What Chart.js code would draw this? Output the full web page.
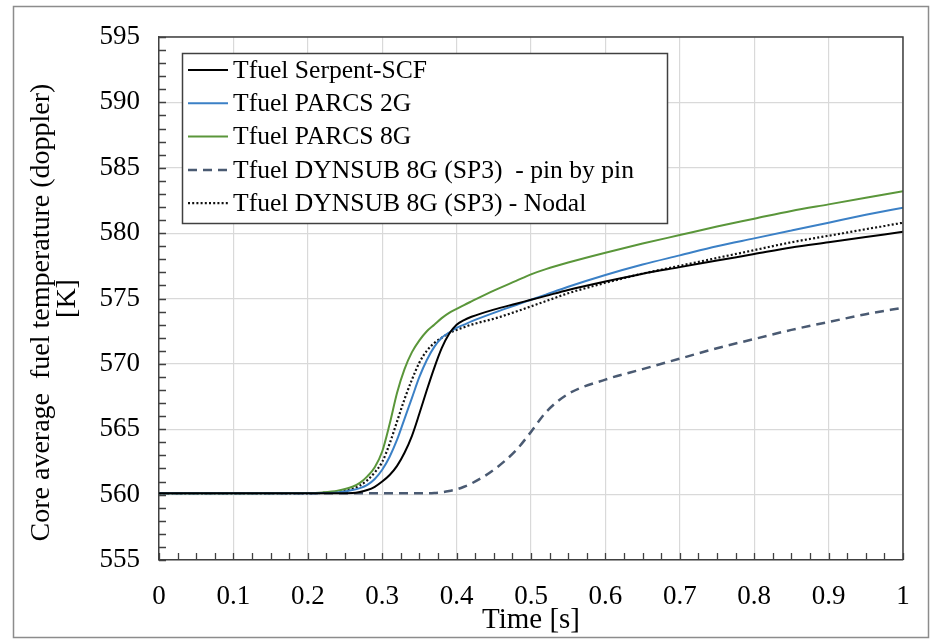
<!DOCTYPE html>
<html>
<head>
<meta charset="utf-8">
<script src="https://cdn.jsdelivr.net/npm/chart.js@4/dist/chart.umd.min.js"></script>
<style>
html,body{margin:0;padding:0;background:#fff;}
#wrap{width:932px;height:642px;}
</style>
</head>
<body>
<div id="wrap"><canvas id="c" width="932" height="642"></canvas></div>
<script>
// ---- data ----
const time = [0, 0.1, 0.2, 0.22, 0.24, 0.26, 0.27, 0.28, 0.29, 0.30,
              0.31, 0.32, 0.33, 0.34, 0.35, 0.36, 0.37, 0.38, 0.39, 0.40,
              0.41, 0.42, 0.45, 0.48, 0.50, 0.52, 0.55,
              0.60, 0.65, 0.70, 0.75, 0.80, 0.85, 0.90, 0.95, 1.00];
const serpentSCF = [560.1, 560.1, 560.1, 560.1, 560.1, 560.12, 560.2, 560.35, 560.6, 561.0,
                    561.5, 562.2, 563.2, 564.5, 566.2, 568.0, 569.7, 571.2, 572.3, 573.0,
                    573.35, 573.6, 574.15, 574.6, 574.9, 575.2, 575.65,
                    576.3, 576.9, 577.4, 577.9, 578.4, 578.9, 579.3, 579.7, 580.1];
const parcs2G    = [560.1, 560.1, 560.1, 560.12, 560.17, 560.35, 560.5, 560.75, 561.2, 561.9,
                    562.9, 564.2, 565.8, 567.4, 569.0, 570.3, 571.3, 572.0, 572.4, 572.75,
                    573.0, 573.25, 573.9, 574.5, 574.9, 575.3, 575.9,
                    576.8, 577.6, 578.3, 579.0, 579.6, 580.2, 580.8, 581.4, 581.95];
const parcs8G    = [560.1, 560.1, 560.12, 560.17, 560.3, 560.6, 560.9, 561.4, 562.1, 563.3,
                    565.4, 567.8, 569.6, 570.9, 571.8, 572.5, 573.0, 573.5, 573.9, 574.2,
                    574.5, 574.78, 575.6, 576.35, 576.85, 577.25, 577.75,
                    578.5, 579.2, 579.85, 580.5, 581.1, 581.7, 582.2, 582.7, 583.2];
const dynsubPin  = [560.1, 560.1, 560.1, 560.1, 560.1, 560.1, 560.1, 560.1, 560.1, 560.1,
                    560.1, 560.1, 560.1, 560.1, 560.1, 560.1, 560.12, 560.18, 560.28, 560.4,
                    560.6, 560.85, 561.9, 563.4, 564.8, 566.3, 567.7,
                    568.8, 569.6, 570.4, 571.2, 571.9, 572.6, 573.2, 573.8, 574.3];
const dynsubNodal= [560.1, 560.1, 560.1, 560.13, 560.2, 560.45, 560.7, 561.1, 561.7, 562.5,
                    563.9, 565.6, 567.3, 568.8, 570.1, 571.0, 571.6, 572.0, 572.35, 572.6,
                    572.8, 573.0, 573.45, 574.0, 574.4, 574.8, 575.4,
                    576.2, 576.9, 577.5, 578.1, 578.7, 579.3, 579.8, 580.3, 580.8];
const seriesLabels = ["Tfuel Serpent-SCF", "Tfuel PARCS 2G", "Tfuel PARCS 8G", "Tfuel DYNSUB 8G (SP3)  - pin by pin", "Tfuel DYNSUB 8G (SP3) - Nodal"];
const xTickValues = [0, 0.1, 0.2, 0.3, 0.4, 0.5, 0.6, 0.7, 0.8, 0.9, 1];
const yTickValues = [555, 560, 565, 570, 575, 580, 585, 590, 595];
const xTitle = 'Time [s]';
const yTitle = ['Core average  fuel temperature (doppler)    ', '[K]'];

const seriesValues = [serpentSCF, parcs2G, parcs8G, dynsubPin, dynsubNodal];
const seriesStyles = [
  {color: "#000000", dash: [], width: 2},
  {color: "#3b80c6", dash: [], width: 2},
  {color: "#5a963a", dash: [], width: 2},
  {color: "#4a5a72", dash: [9, 6], width: 2.5},
  {color: "#111111", dash: [2, 2.2], width: 2.2}
];
const serif = "'Liberation Serif', 'Times New Roman', serif";

const datasets = seriesLabels.map((lab, i) => ({
  label: lab,
  data: time.map((t, k) => ({x: t, y: seriesValues[i][k]})),
  borderColor: seriesStyles[i].color,
  borderWidth: seriesStyles[i].width,
  borderDash: seriesStyles[i].dash,
  pointRadius: 0,
  fill: false,
  cubicInterpolationMode: 'monotone'
}));

const framePlugin = {
  id: 'frame',
  beforeDraw(chart) {
    const ctx = chart.ctx;
    ctx.save();
    ctx.fillStyle = '#ffffff';
    ctx.fillRect(0, 0, chart.width, chart.height);
    ctx.strokeStyle = '#8c8c8c';
    ctx.lineWidth = 1.5;
    ctx.strokeRect(13.5, 6.5, 915, 631);
    ctx.restore();
  }
};

const minorTicksPlugin = {
  id: 'minorTicks',
  afterDraw(chart) {
    const ctx = chart.ctx;
    const xs = chart.scales.x, ys = chart.scales.y;
    const a = chart.chartArea;
    ctx.save();
    ctx.strokeStyle = '#404040';
    ctx.lineWidth = 1.3;
    ctx.beginPath();
    for (let v = ys.min; v <= ys.max + 1e-9; v += 1) {
      const py = Math.round(ys.getPixelForValue(v)) + 0.5;
      ctx.moveTo(a.left, py); ctx.lineTo(a.left + 7, py);
    }
    for (let v = xs.min; v <= xs.max + 1e-9; v += 0.025) {
      const px = Math.round(xs.getPixelForValue(v)) + 0.5;
      ctx.moveTo(px, a.bottom); ctx.lineTo(px, a.bottom - 7);
    }
    ctx.stroke();
    ctx.restore();
  }
};

const boxLegendPlugin = {
  id: 'boxLegend',
  afterDraw(chart) {
    const ctx = chart.ctx;
    const x0 = 182, y0 = 53, w = 485, h = 170;
    ctx.save();
    ctx.fillStyle = '#ffffff';
    ctx.fillRect(x0, y0, w, h);
    ctx.strokeStyle = '#404040';
    ctx.lineWidth = 1.5;
    ctx.strokeRect(x0 + 0.5, y0 + 0.5, w, h);
    ctx.font = "25.6px " + serif;
    ctx.textBaseline = 'middle';
    ctx.textAlign = 'left';
    chart.data.datasets.forEach((ds, i) => {
      const yy = 70 + i * 33.3;
      ctx.strokeStyle = ds.borderColor;
      ctx.lineWidth = ds.borderWidth;
      ctx.setLineDash(ds.borderDash);
      ctx.beginPath();
      ctx.moveTo(188, yy); ctx.lineTo(228, yy);
      ctx.stroke();
      ctx.setLineDash([]);
      ctx.fillStyle = '#000000';
      ctx.fillText(ds.label, 233, yy + 1);
    });
    ctx.restore();
  }
};

new Chart(document.getElementById('c'), {
  type: 'line',
  data: {datasets},
  options: {
    responsive: false,
    animation: false,
    devicePixelRatio: 1,
    layout: {padding: {top: 37, right: 29, left: 0, bottom: 0}},
    plugins: {legend: {display: false}, tooltip: {enabled: false}},
    scales: {
      x: {
        type: 'linear', min: 0, max: 1,
        afterBuildTicks(s) { s.ticks = xTickValues.map(v => ({value: v})); },
        afterFit(s) { s.height = 82; },
        ticks: {color: '#000', font: {family: serif, size: 27}, padding: 21, maxRotation: 0,
                callback: v => String(Math.round(v * 10) / 10)},
        grid: {color: '#d9d9d9', lineWidth: 1.2, drawTicks: false},
        border: {display: true, color: '#404040', width: 1.5},
        title: {display: true, text: xTitle, color: '#000', font: {family: serif, size: 29, lineHeight: 1.2}, padding: {top: 0, bottom: 4}}
      },
      y: {
        type: 'linear', min: 555, max: 595,
        afterBuildTicks(s) { s.ticks = yTickValues.map(v => ({value: v})); },
        afterFit(s) { s.width = 159; },
        ticks: {color: '#000', font: {family: serif, size: 27}, padding: 19},
        grid: {color: '#d9d9d9', lineWidth: 1.2, drawTicks: false},
        border: {display: true, color: '#404040', width: 1.5},
        title: {display: true, text: yTitle, color: '#000', font: {family: serif, size: 28, lineHeight: 0.95}, padding: {top: 28, bottom: 0}}
      }
    }
  },
  plugins: [framePlugin, minorTicksPlugin, boxLegendPlugin, {
    id: 'topRightBorder',
    afterDraw(chart) {
      const a = chart.chartArea, ctx = chart.ctx;
      ctx.save();
      ctx.strokeStyle = '#404040'; ctx.lineWidth = 1.5;
      ctx.beginPath();
      ctx.moveTo(a.left, a.top); ctx.lineTo(a.right, a.top); ctx.lineTo(a.right, a.bottom);
      ctx.stroke();
      ctx.restore();
    }
  }]
});
</script>
</body>
</html>
